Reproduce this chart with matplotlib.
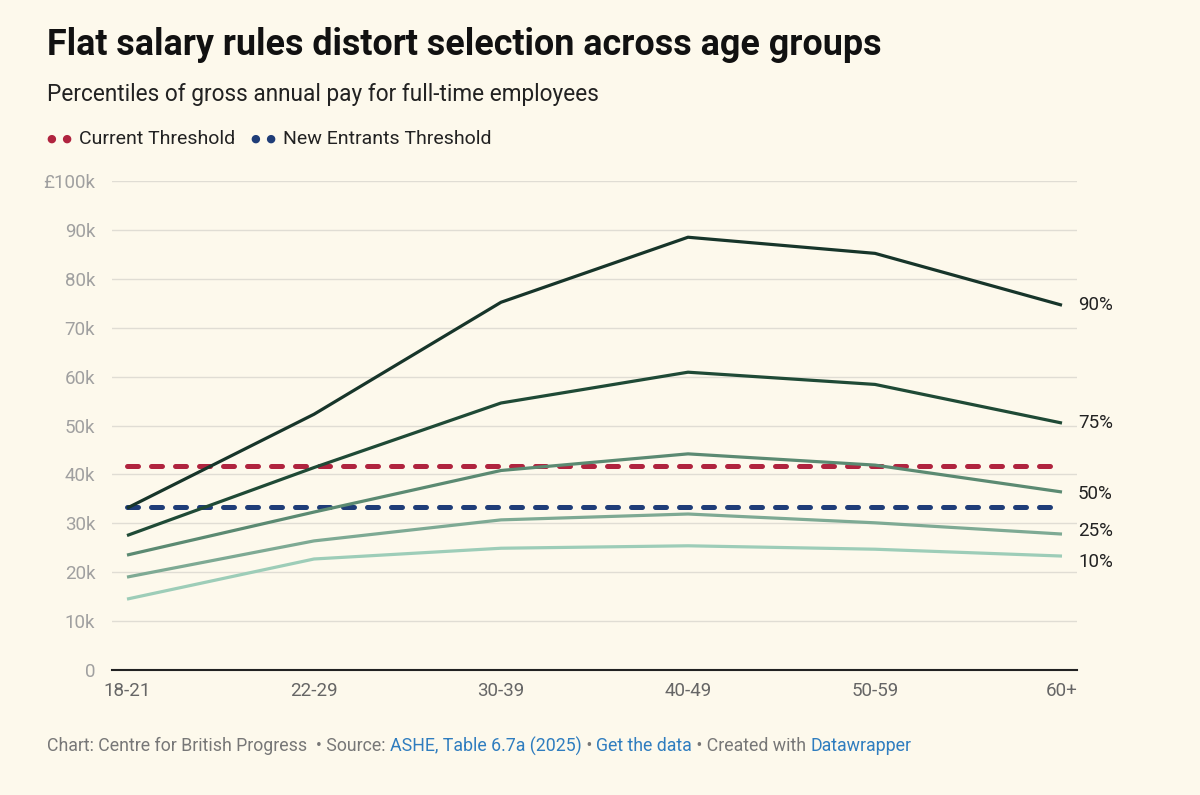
import numpy as np
import matplotlib.pyplot as plt
from matplotlib.transforms import offset_copy

plt.rcParams['font.family'] = ['Roboto', 'DejaVu Sans']

ages = ["18-21", "22-29", "30-39", "40-49", "50-59", "60+"]
p90 = [33.1, 52.3, 75.2, 88.5, 85.2, 74.6]
p75 = [27.5, 41.4, 54.6, 60.9, 58.4, 50.5]
p50 = [23.5, 32.3, 40.8, 44.2, 41.9, 36.4]
p25 = [19.0, 26.4, 30.7, 31.9, 30.1, 27.8]
p10 = [14.5, 22.7, 24.9, 25.4, 24.7, 23.3]
current_threshold = 41.7
new_entrants_threshold = 33.4

series = [("90%", p90, "#17352a"), ("75%", p75, "#1f4a36"),
          ("50%", p50, "#5b8a72"), ("25%", p25, "#7eaa94"),
          ("10%", p10, "#9dcdb8")]

bg = "#fdf9ec"
fig = plt.figure(figsize=(12, 7.95), dpi=100, facecolor=bg)
ax = fig.add_axes([112/1200, 1-670/795, (1077-112)/1200, (670-181)/795])
ax.set_facecolor(bg)

x = np.arange(len(ages))
pad = 15 / 187

ax.hlines(current_threshold, x[0], x[-1], color="#b0243f", lw=3.6,
          linestyles=(0, (2.2, 2.6)), capstyle="round", zorder=3)
ax.hlines(new_entrants_threshold, x[0], x[-1], color="#1f3d78", lw=3.6,
          linestyles=(0, (2.2, 2.6)), capstyle="round", zorder=3)

for name, vals, col in series[::-1]:
    ax.plot(x, vals, color=col, lw=2.3, zorder=4, solid_capstyle="butt")

# end labels, nudged apart where crowded
label_y = {"90%": p90[-1], "75%": p75[-1], "50%": 36.0, "25%": 28.4, "10%": 22.1}
lab_tr = offset_copy(ax.transData, fig=fig, x=16, y=0, units='dots')
for name, vals, col in series:
    ax.text(x[-1], label_y[name], name, fontsize=13.5, color="#222222",
            va="center", ha="left", transform=lab_tr, clip_on=False)

ax.set_xlim(-pad, len(ages) - 1 + pad)
ax.set_ylim(0, 100)
yt = np.arange(0, 101, 10)
ax.set_yticks(yt)
ax.set_yticklabels(["0"] + [f"{v}k" for v in yt[1:-1]] + ["£100k"])
ax.set_xticks(x)
ax.set_xticklabels(ages)
ax.grid(axis="y", color="#e0ddd4", lw=1)
ax.set_axisbelow(True)
for s in ["top", "right", "left"]:
    ax.spines[s].set_visible(False)
ax.spines["bottom"].set_color("#222222")
ax.spines["bottom"].set_linewidth(1.5)
ax.tick_params(axis="y", length=0, labelsize=13.5, labelcolor="#a0a0a0", pad=12)
ax.tick_params(axis="x", length=0, labelsize=13.5, labelcolor="#666666", pad=9)

fig.text(47/1200, 1-45/795, "Flat salary rules distort selection across age groups",
         fontsize=25.8, fontweight="bold", color="#111111", va="center")
fig.text(47/1200, 1-95/795, "Percentiles of gross annual pay for full-time employees",
         fontsize=16.3, color="#222222", va="center")

# legend
ly = 1-139/795
fig.text(47/1200, ly, "\u25CF  \u25CF", fontsize=8, color="#b0243f", va="center")
fig.text(79/1200, ly, "Current Threshold", fontsize=14, color="#222222", va="center")
fig.text(251/1200, ly, "\u25CF  \u25CF", fontsize=8, color="#1f3d78", va="center")
fig.text(283/1200, ly, "New Entrants Threshold", fontsize=14, color="#222222", va="center")

# footer
fy = 1-746/795
parts = [("Chart: Centre for British Progress  \u2022 Source: ", "#777777"),
         ("ASHE, Table 6.7a (2025)", "#2f7dbf"), (" \u2022 ", "#777777"),
         ("Get the data", "#2f7dbf"), (" \u2022 Created with ", "#777777"),
         ("Datawrapper", "#2f7dbf")]
fig.canvas.draw()
r = fig.canvas.get_renderer()
xpos = 47/1200
for txt, col in parts:
    t = fig.text(xpos, fy, txt, fontsize=12.8, color=col, va="center")
    bb = t.get_window_extent(renderer=r)
    xpos += bb.width / fig.bbox.width

fig.savefig("out.png", dpi=100, facecolor=bg)
